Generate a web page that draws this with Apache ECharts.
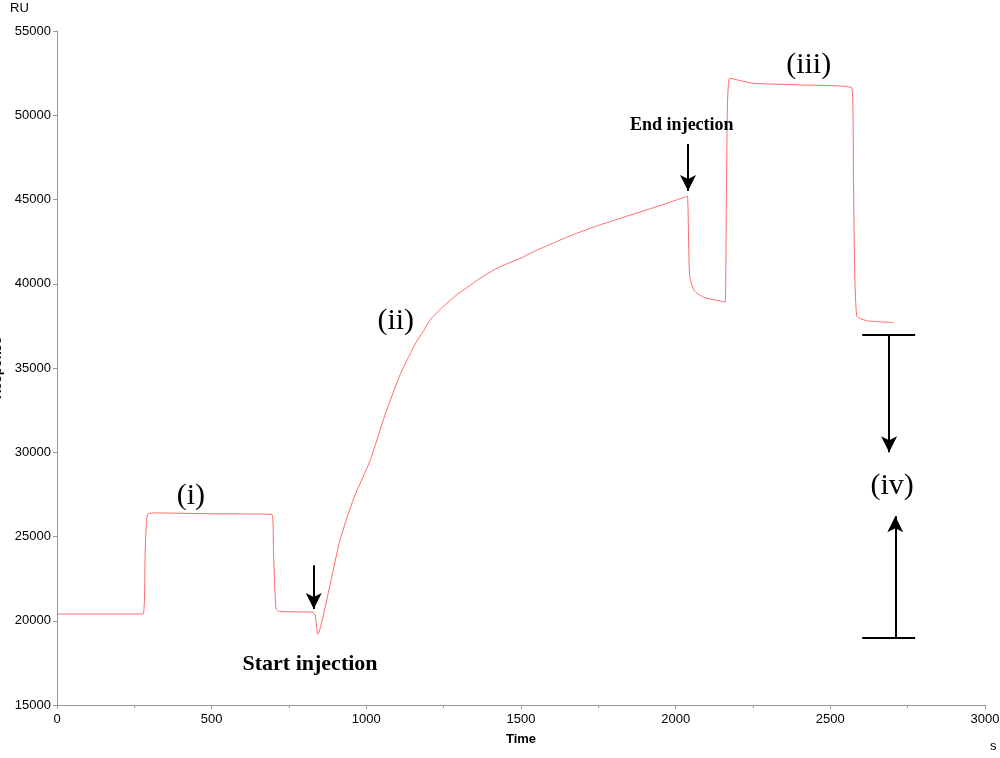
<!DOCTYPE html>
<html><head><meta charset="utf-8">
<script src="https://cdn.jsdelivr.net/npm/echarts@6/dist/echarts.min.js"></script>
<style>body{margin:0}#echarts{width:1000px;height:758px}</style>
</head><body><div id="echarts"></div>
<script>
// sensorgram: [time s, response RU]
var times = [0, 278, 285, 292, 310, 500, 695, 700, 708, 720, 828, 835, 843, 880, 915, 960, 1012, 1060, 1109, 1135, 1160, 1185, 1206, 1240, 1270, 1300, 1335, 1370, 1410, 1450, 1497, 1540, 1590, 1640, 1691, 1740, 1790, 1840, 1885, 1960, 2030, 2038, 2045, 2060, 2090, 2150, 2160, 2165, 2175, 2250, 2400, 2570, 2575, 2585, 2620, 2703];
var values = [20400, 20400, 24000, 26300, 26400, 26350, 26300, 24000, 20700, 20550, 20500, 20300, 19200, 21900, 24800, 27300, 29500, 32200, 34600, 35600, 36500, 37200, 37850, 38500, 39000, 39450, 39900, 40350, 40800, 41150, 41500, 41900, 42300, 42700, 43070, 43400, 43700, 44000, 44260, 44700, 45150, 45200, 40500, 39600, 39200, 38950, 38900, 47000, 52200, 51900, 51800, 51600, 46000, 38100, 37800, 37700];
var xTicks = [0, 500, 1000, 1500, 2000, 2500, 3000];

var serif = '"Liberation Serif", "DejaVu Serif", serif';
var arrowStyle = {color: '#000', width: 2, type: 'solid'};

window.onload = function(){
  var data = times.map(function(t, i){ return [t, values[i]]; });
  var option = {
    animation: false,
    grid: {left: 57, right: 15, top: 31, bottom: 53, containLabel: false, outerBoundsMode: 'none'},
    xAxis: {
      type: 'value', min: xTicks[0], max: xTicks[xTicks.length - 1], interval: 500,
      name: 'Time', nameLocation: 'middle', nameGap: 28,
      nameTextStyle: {fontWeight: 'bold', fontSize: 13, color: '#000', fontFamily: 'Arial'},
      axisLine: {lineStyle: {color: '#999'}},
      axisTick: {show: true, length: 4, lineStyle: {color: '#999'}},
      minorTick: {show: true, splitNumber: 2, length: 3, lineStyle: {color: '#999'}},
      axisLabel: {color: '#000', fontSize: 13, fontFamily: 'Arial', formatter: function(v){ return String(v); }},
      splitLine: {show: false}
    },
    yAxis: {
      type: 'value', min: 15000, max: 55000, interval: 5000,
      name: 'Response', nameLocation: 'middle', nameGap: 46, nameRotate: 90,
      nameTextStyle: {fontWeight: 'bold', fontSize: 13, color: '#000', fontFamily: 'Arial'},
      axisLine: {show: true, lineStyle: {color: '#999'}},
      axisTick: {show: true, length: 4, lineStyle: {color: '#999'}},
      axisLabel: {color: '#000', fontSize: 13, fontFamily: 'Arial', margin: 6, formatter: function(v){ return String(v); }},
      splitLine: {show: false}
    },
    graphic: [
      {type: 'text', left: 10, top: 2, style: {text: 'RU', fontSize: 13, fontFamily: 'Arial', fill: '#000'}},
      {type: 'text', left: 990, top: 740, style: {text: 's', fontSize: 13, fontFamily: 'Arial', fill: '#000'}}
    ],
    series: [{
      type: 'line', data: data, showSymbol: false, symbol: 'none', smooth: 0.2,
      lineStyle: {color: '#ff6b6b', width: 1},
      markLine: {
        silent: true, symbol: ['none', 'arrow'], symbolSize: [12, 16],
        lineStyle: arrowStyle, label: {show: false},
        data: [
          [{coord: [830, 23300]}, {coord: [830, 20700]}],
          [{coord: [2040, 48300]}, {coord: [2040, 45500]}],
          [{coord: [2690, 37000]}, {coord: [2690, 30000]}],
          [{coord: [2710, 19000]}, {coord: [2710, 26200]}],
          [{coord: [2603, 37000], symbol: 'none'}, {coord: [2774, 37000], symbol: 'none'}],
          [{coord: [2603, 19000], symbol: 'none'}, {coord: [2774, 19000], symbol: 'none'}]
        ]
      },
      markPoint: {
        silent: true, symbol: 'circle', symbolSize: 0,
        label: {show: true, color: '#000', fontFamily: serif, fontSize: 30},
        data: [
          {coord: [433, 27400], label: {formatter: '(i)'}},
          {coord: [1095, 37800], label: {formatter: '(ii)'}},
          {coord: [2430, 53000], label: {formatter: '(iii)'}},
          {coord: [2700, 28000], label: {formatter: '(iv)'}},
          {coord: [818, 17400], label: {formatter: 'Start injection', fontSize: 22, fontWeight: 'bold'}},
          {coord: [2020, 49400], label: {formatter: 'End injection', fontSize: 18, fontWeight: 'bold'}}
        ]
      }
    }]
  };
  var mychart = echarts.init(document.getElementById('echarts'));
  mychart.setOption(option);
};
</script></body></html>
